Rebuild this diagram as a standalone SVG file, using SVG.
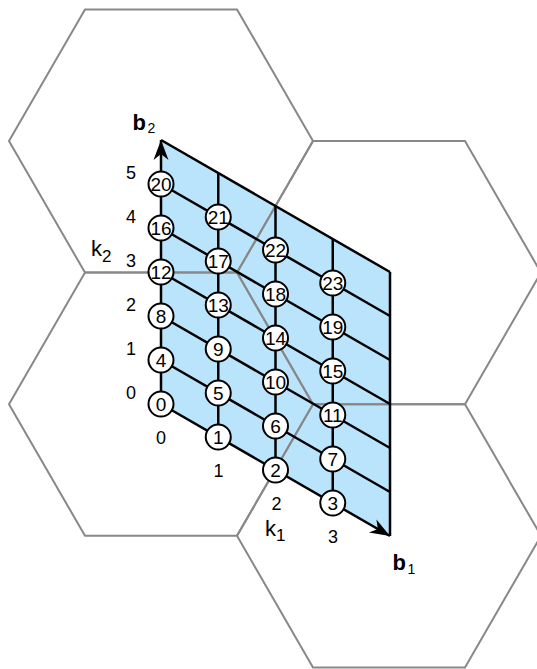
<svg xmlns="http://www.w3.org/2000/svg" width="537" height="669" viewBox="0 0 537 669">
<style>
.hex{fill:none;stroke:#888;stroke-width:2}
.grid{stroke:#000;stroke-width:2.5;fill:none}
.node circle{fill:#fff;stroke:#000;stroke-width:2}
.node text{font-family:"Liberation Sans",Arial,sans-serif;font-size:19px;text-anchor:middle;fill:#000}
.lbl{font-family:"Liberation Sans",Arial,sans-serif;font-size:18px;text-anchor:middle;fill:#000}
.k{font-family:"Liberation Sans",Arial,sans-serif;font-size:22px;fill:#000}
.sub{font-family:"Liberation Sans",Arial,sans-serif;font-size:17px;fill:#000}
.b{font-family:"Liberation Sans",Arial,sans-serif;font-size:22px;font-weight:bold;fill:#000}
.bsub{font-family:"Liberation Sans",Arial,sans-serif;font-size:14px;fill:#000}
</style>
<defs>
<marker id="arr" viewBox="-22 -9 24 18" refX="0" refY="0" markerWidth="24" markerHeight="18" markerUnits="userSpaceOnUse" orient="auto">
<path d="M0,0 L-20,-7.5 L-14,0 L-20,7.5 Z" fill="#000"/>
</marker>
</defs>
<g id="cell">
<polygon points="161,140 390,272 390,536 161,404" fill="#b9e4fc"/>
</g>
<g id="hexagons">
<polygon class="hex" points="85,9.4 237,9.4 313,141 237,272.6 85,272.6 9,141"/>
<polygon class="hex" points="85,272.6 237,272.6 313,404.2 237,535.8 85,535.8 9,404.2"/>
<polygon class="hex" points="313,141 465,141 541,272.6 465,404.2 313,404.2 237,272.6"/>
<polygon class="hex" points="313,404.2 465,404.2 541,535.8 465,667.4 313,667.4 237,535.8"/>
</g>
<g id="connectors">
<line class="grid" x1="161" y1="404" x2="161" y2="140" marker-end="url(#arr)"/>
<line class="grid" x1="218.25" y1="437" x2="218.25" y2="173"/>
<line class="grid" x1="275.5" y1="470" x2="275.5" y2="206"/>
<line class="grid" x1="332.75" y1="503" x2="332.75" y2="239"/>
<line class="grid" x1="390" y1="536" x2="390" y2="272"/>
<line class="grid" x1="161" y1="404" x2="390" y2="536" marker-end="url(#arr)"/>
<line class="grid" x1="161" y1="360" x2="390" y2="492"/>
<line class="grid" x1="161" y1="316" x2="390" y2="448"/>
<line class="grid" x1="161" y1="272" x2="390" y2="404"/>
<line class="grid" x1="161" y1="228" x2="390" y2="360"/>
<line class="grid" x1="161" y1="184" x2="390" y2="316"/>
<line class="grid" x1="161" y1="140" x2="390" y2="272"/>
</g>
<g id="n0" class="node"><circle cx="161" cy="404" r="12.5"/><text x="161" y="411">0</text></g>
<g id="n1" class="node"><circle cx="218.25" cy="437" r="12.5"/><text x="218.25" y="444">1</text></g>
<g id="n2" class="node"><circle cx="275.5" cy="470" r="12.5"/><text x="275.5" y="477">2</text></g>
<g id="n3" class="node"><circle cx="332.75" cy="503" r="12.5"/><text x="332.75" y="510">3</text></g>
<g id="n4" class="node"><circle cx="161" cy="360" r="12.5"/><text x="161" y="367">4</text></g>
<g id="n5" class="node"><circle cx="218.25" cy="393" r="12.5"/><text x="218.25" y="400">5</text></g>
<g id="n6" class="node"><circle cx="275.5" cy="426" r="12.5"/><text x="275.5" y="433">6</text></g>
<g id="n7" class="node"><circle cx="332.75" cy="459" r="12.5"/><text x="332.75" y="466">7</text></g>
<g id="n8" class="node"><circle cx="161" cy="316" r="12.5"/><text x="161" y="323">8</text></g>
<g id="n9" class="node"><circle cx="218.25" cy="349" r="12.5"/><text x="218.25" y="356">9</text></g>
<g id="n10" class="node"><circle cx="275.5" cy="382" r="12.5"/><text x="275.5" y="389">10</text></g>
<g id="n11" class="node"><circle cx="332.75" cy="415" r="12.5"/><text x="332.75" y="422">11</text></g>
<g id="n12" class="node"><circle cx="161" cy="272" r="12.5"/><text x="161" y="279">12</text></g>
<g id="n13" class="node"><circle cx="218.25" cy="305" r="12.5"/><text x="218.25" y="312">13</text></g>
<g id="n14" class="node"><circle cx="275.5" cy="338" r="12.5"/><text x="275.5" y="345">14</text></g>
<g id="n15" class="node"><circle cx="332.75" cy="371" r="12.5"/><text x="332.75" y="378">15</text></g>
<g id="n16" class="node"><circle cx="161" cy="228" r="12.5"/><text x="161" y="235">16</text></g>
<g id="n17" class="node"><circle cx="218.25" cy="261" r="12.5"/><text x="218.25" y="268">17</text></g>
<g id="n18" class="node"><circle cx="275.5" cy="294" r="12.5"/><text x="275.5" y="301">18</text></g>
<g id="n19" class="node"><circle cx="332.75" cy="327" r="12.5"/><text x="332.75" y="334">19</text></g>
<g id="n20" class="node"><circle cx="161" cy="184" r="12.5"/><text x="161" y="191">20</text></g>
<g id="n21" class="node"><circle cx="218.25" cy="217" r="12.5"/><text x="218.25" y="224">21</text></g>
<g id="n22" class="node"><circle cx="275.5" cy="250" r="12.5"/><text x="275.5" y="257">22</text></g>
<g id="n23" class="node"><circle cx="332.75" cy="283" r="12.5"/><text x="332.75" y="290">23</text></g>
<g id="labels">
<text class="lbl" x="131" y="179">5</text>
<text class="lbl" x="131" y="223">4</text>
<text class="lbl" x="131" y="267">3</text>
<text class="lbl" x="131" y="311">2</text>
<text class="lbl" x="131" y="355">1</text>
<text class="lbl" x="131" y="399">0</text>
<text class="lbl" x="161" y="444">0</text>
<text class="lbl" x="218.5" y="477">1</text>
<text class="lbl" x="276.5" y="510">2</text>
<text class="lbl" x="333" y="543">3</text>
<text class="k" x="91" y="256">k</text><text class="sub" x="102" y="262">2</text>
<text class="k" x="265" y="535.5">k</text><text class="sub" x="276" y="541">1</text>
<text class="b" x="132.5" y="130">b</text><text class="bsub" x="147.5" y="133">2</text>
<text class="b" x="392.5" y="570">b</text><text class="bsub" x="407.5" y="574">1</text>
</g>
</svg>
